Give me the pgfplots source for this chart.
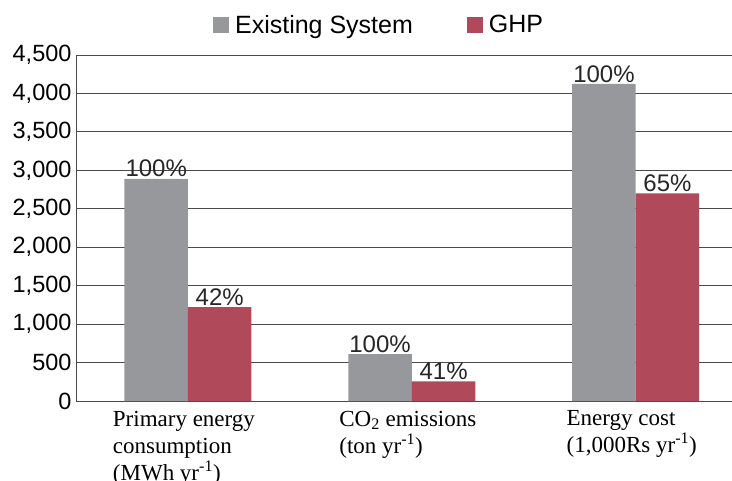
\documentclass[border=0pt]{standalone}
\usepackage{fontspec}
\setmainfont{Liberation Sans}
\newfontfamily\seriffont{Liberation Serif}
\usepackage{pgfplots}
\pgfplotsset{compat=1.18}
\definecolor{exgray}{HTML}{97989C}
\definecolor{ghpred}{HTML}{B04A5A}
\definecolor{gridc}{HTML}{4A4A4A}
\begin{document}
\begin{tikzpicture}
\path[use as bounding box] (-76bp,-80bp) rectangle (656bp,401bp);
\begin{axis}[
  scale only axis,
  width=656bp, height=346bp,
  xmin=-0.5, xmax=2.43,
  ymin=0, ymax=4500,
  ytick={0,500,...,4500},
  xtick={0,1,2},
  xticklabels={{Primary energy\\consumption\\(MWh yr\textsuperscript{-1})},
               {CO\textsubscript{2} emissions\\(ton yr\textsuperscript{-1})},
               {Energy cost\\(1,000Rs yr\textsuperscript{-1})}},
  extra x ticks={0.5,1.5},
  extra x tick labels={},
  extra x tick style={major tick length=7bp, tick style={draw=gridc, line width=0.8bp}, tick align=inside},
  major x tick style={draw=none},
  major y tick style={draw=none},
  xticklabel style={font=\seriffont\fontsize{23bp}{27bp}\selectfont, align=left, anchor=north, yshift=-2bp, xshift=-4bp},
  yticklabel style={font=\fontsize{23.5bp}{26bp}\selectfont, xshift=-1bp},
  /pgf/number format/assume math mode=true,
  /pgf/number format/1000 sep={,},
  scaled y ticks=false,
  axis x line*=bottom,
  axis y line*=left,
  axis line style={draw=gridc, line width=0.8bp, -},
  ymajorgrids,
  grid style={draw=gridc, line width=0.8bp},
  ybar=0pt,
  bar width=63.5bp,
  legend columns=2,
  legend style={draw=none, fill=none, at={(0.462,1.087)}, anchor=center,
    font=\fontsize{25bp}{28bp}\selectfont,
    /tikz/every odd column/.append style={column sep=4bp},
    /tikz/every even column/.append style={column sep=52bp}},
  legend image code/.code={\fill[#1] (0bp,-8bp) rectangle (16bp,8bp);},
  nodes near coords,
  nodes near coords style={font=\fontsize{24bp}{27bp}\selectfont, black!85, inner sep=1.5bp},
]
\addplot[fill=exgray, draw=none, point meta=explicit symbolic] coordinates {(0,2890) [100\%] (1,611) [100\%] (2,4123) [100\%]};
\addplot[fill=ghpred, draw=none, point meta=explicit symbolic] coordinates {(0,1220) [42\%] (1,255) [41\%] (2,2700) [65\%]};
\legend{Existing System, GHP}
\end{axis}
\end{tikzpicture}
\end{document}
